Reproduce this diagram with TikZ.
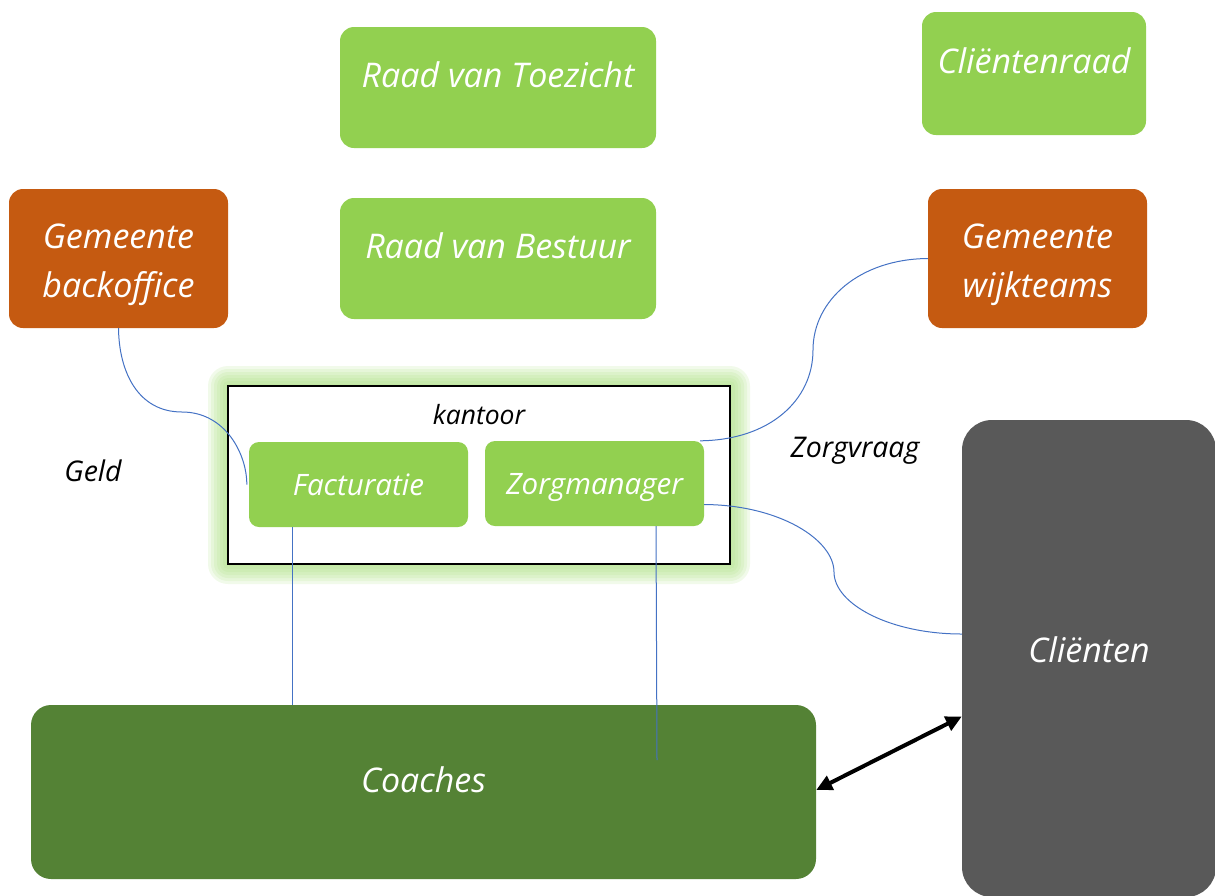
\documentclass[tikz,border=0pt]{standalone}
\usepackage{fontspec}
\setmainfont{Open Sans}
\usetikzlibrary{positioning,arrows.meta}
\definecolor{lightgreen}{HTML}{92D050}
\definecolor{darkgreen}{HTML}{548235}
\definecolor{rustorange}{HTML}{C55A11}
\definecolor{slategray}{HTML}{595959}
\definecolor{linkblue}{HTML}{4472C4}
\definecolor{glowgreen}{HTML}{A9DF7E}
\newcommand{\toprule}{\rule{0pt}{38pt}}
\begin{document}
\begin{tikzpicture}[
    x=1pt, y=-1pt,
    font=\itshape\fontsize{34}{49}\selectfont,
    block/.style={fill=#1, text=white, align=center, inner sep=0pt, rounded corners=14pt},
    uptext/.style={text height=22pt, text depth=22pt},
    subblock/.style={block=lightgreen, minimum width=219pt, minimum height=85pt, rounded corners=10pt,
                     text height=21pt, text depth=0pt, font=\itshape\fontsize{29.5}{34}\selectfont},
    link/.style={linkblue, line width=1pt},
    tag/.style={font=\itshape\fontsize{28.5}{32}\selectfont, text=black},
    both/.style={{Triangle[length=16pt,width=15pt]}-{Triangle[length=16pt,width=15pt]}, line width=4pt, black},
]
  \useasboundingbox (0,0) rectangle (1215,895);
  %% board and council
  \node[block=lightgreen, uptext, minimum width=316pt, minimum height=121pt] (rvt) at (498,87.5) {Raad van Toezicht};
  \node[block=lightgreen, uptext, minimum width=224pt, minimum height=123pt] (craad) at (1034,73.5) {Cliëntenraad};
  \node[block=lightgreen, uptext, minimum width=316pt, minimum height=121pt] (rvb) at (498,258.5) {Raad van Bestuur};
  %% municipality
  \node[block=rustorange, minimum width=219pt, minimum height=139pt] (gbo) at (118.5,258.5) {\toprule Gemeente\\backoffice};
  \node[block=rustorange, minimum width=219pt, minimum height=139pt] (gwt) at (1037.5,258.5) {\toprule Gemeente\\wijkteams};
  %% office with glow
  \foreach \g in {20,17,...,2}
    \fill[glowgreen, opacity=0.16, rounded corners=\g pt] (228-\g,386-\g) rectangle (730+\g,564+\g);
  \node[draw=black, line width=1.6pt, fill=white, minimum width=502pt, minimum height=178pt, inner sep=0pt] (kantoor) at (479,475) {};
  \node[tag, font=\itshape\fontsize{26.5}{30}\selectfont, below=16pt of kantoor.north] (ktitle) {kantoor};
  \node[subblock] (fact) at (358.5,484.5) {Facturatie};
  \node[subblock] (zm) at (594.5,483.5) {Zorgmanager};
  %% coaches and clients
  \node[block=darkgreen, uptext, minimum width=785pt, minimum height=174pt, rounded corners=20pt] (coach) at (423.5,792) {Coaches};
  \node[block=slategray, uptext, text height=26pt, text depth=18pt, minimum width=254pt, minimum height=477pt,
        rounded corners=30pt] (client) at (1089,658.5) {Cliënten};
  %% labels
  \node[tag] (geld) at (93,471) {Geld};
  \node[tag] (zvraag) at (855,451) {Zorgvraag};
  %% connectors
  \coordinate (zmend) at (657,760);
  \draw[link] (gbo.south) .. controls (119,372) and (138,412) .. (182,412)
                          .. controls (226,412) and (247,455) .. ([xshift=-2pt]fact.west);
  \draw[link] ([xshift=-4pt]zm.north east) .. controls (770,440) and (813,400) .. (813,350)
                          .. controls (813,300) and (860,259) .. (gwt.west);
  \draw[link] ([yshift=-21pt]zm.east) .. controls (780,505) and (834,540) .. (834,572)
                          .. controls (834,604) and (890,634) .. ([yshift=24.5pt]client.west);
  \draw[link] (fact.south -| 292,0) -- (coach.north -| 292,0);
  \draw[link] (zm.south -| 656,0) -- (zmend);
  \draw[both] ([yshift=2pt]coach.east) -- ([yshift=-58pt]client.west);
\end{tikzpicture}
\end{document}
